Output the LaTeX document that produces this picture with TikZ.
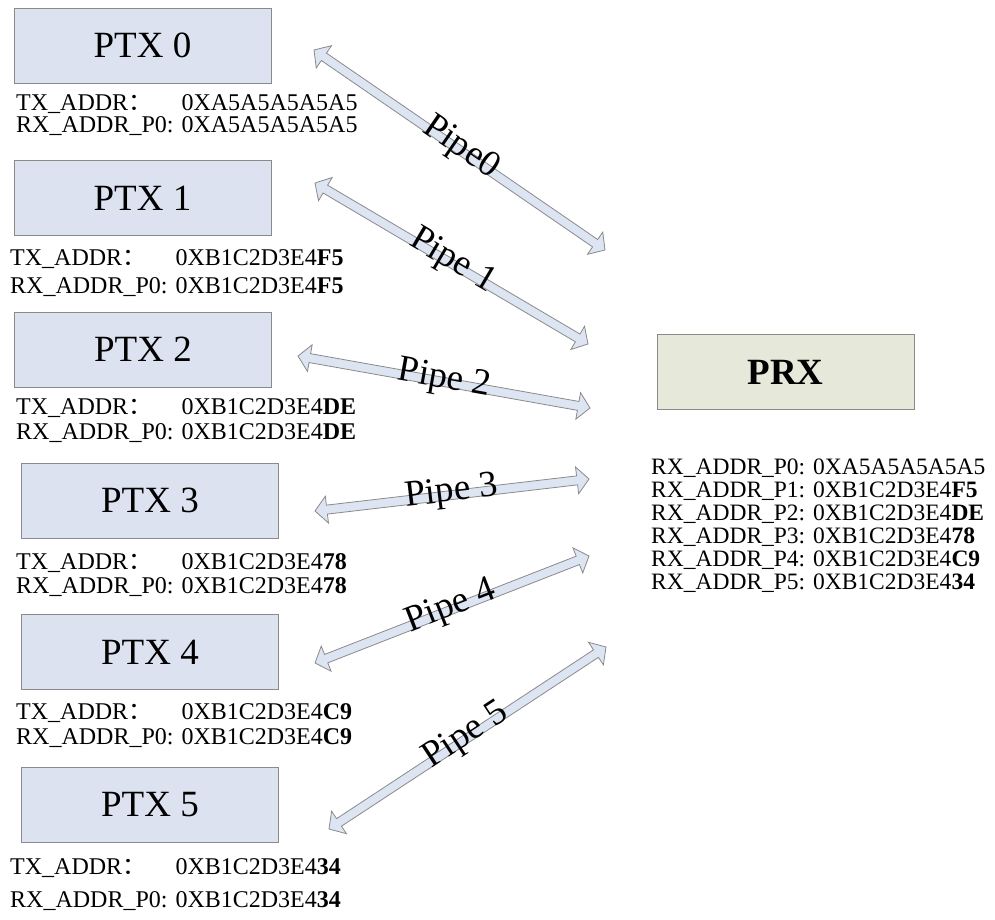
\documentclass[tikz,border=0pt]{standalone}
\usepackage{fontspec}
\setmainfont{Liberation Serif}
\newfontfamily\cjk{Noto Sans CJK SC}
\usetikzlibrary{calc}
\definecolor{ptxfill}{HTML}{DCE2F0}
\definecolor{prxfill}{HTML}{E6E9DA}
\definecolor{edgegray}{HTML}{8A8A8A}
\definecolor{arrfill}{HTML}{DDE4F2}
\tikzset{
  ptx/.style={draw=edgegray, fill=ptxfill, line width=0.9pt, minimum width=257pt,
    minimum height=75pt, inner sep=0pt, font=\fontsize{37}{40}\selectfont},
  prx/.style={ptx, fill=prxfill, font=\fontsize{37}{40}\selectfont\bfseries},
  lbl/.style={inner sep=0pt, font=\fontsize{24}{26}\selectfont},
  rlbl/.style={inner sep=0pt, font=\fontsize{23.5}{26}\selectfont},
  pipelbl/.style={inner sep=0pt, font=\fontsize{37}{40}\selectfont},
  pipearrow/.style={draw=edgegray, fill=arrfill, line width=0.8pt, line join=miter},
}
\newcommand\pipearr[3]{%
  \filldraw[pipearrow] (#1)
    -- ($(#1)!12pt!(#2)!13.5pt!90:(#2)$)
    -- ($(#1)!12pt!(#2)!4.5pt!90:(#2)$)
    -- ($(#2)!12pt!(#1)!4.5pt!-90:(#1)$)
    -- ($(#2)!12pt!(#1)!13.5pt!-90:(#1)$)
    -- (#2)
    -- ($(#2)!12pt!(#1)!13.5pt!90:(#1)$)
    -- ($(#2)!12pt!(#1)!4.5pt!90:(#1)$)
    -- ($(#1)!12pt!(#2)!4.5pt!-90:(#2)$)
    -- ($(#1)!12pt!(#2)!13.5pt!-90:(#2)$)
    -- cycle;
  \path let \p1=($(#2)-(#1)$), \n1={atan2(\y1,\x1)} in
    node[pipelbl, anchor=base, rotate=\n1] at ($(#1)!0.5!(#2)!6pt!-90:(#2)$) {#3};
}
\newcommand\addrrow[5]{%
  \node[lbl, anchor=base west] (#1t) at (#2,#3) {TX\_ADDR{\cjk ：}};
  \node[lbl, anchor=base west] (#1r) at (#2,#4) {RX\_ADDR\_P0: #5};
  \node[lbl, anchor=base east] (#1v) at (#1r.base east |- #1t.base) {#5};
}
\begin{document}
\begin{tikzpicture}[x=1pt,y=-1pt]
\useasboundingbox (0,0) rectangle (995,920);
% boxes
\node[ptx] (ptx0) at (142.5,45.5) {PTX 0};
\node[ptx] (ptx1) at (142.5,198) {PTX 1};
\node[ptx] (ptx2) at (143,349.5) {PTX 2};
\node[ptx] (ptx3) at (150,500.5) {PTX 3};
\node[ptx] (ptx4) at (150,652) {PTX 4};
\node[ptx] (ptx5) at (150,804.5) {PTX 5};
\node[prx] (prx) at (785.5,372) {PRX};
% address labels
\addrrow{a0}{16}{111}{133}{0XA5A5A5A5A5}
\addrrow{a1}{10}{265}{293}{0XB1C2D3E4\textbf{F5}}
\addrrow{a2}{16}{414}{439}{0XB1C2D3E4\textbf{DE}}
\addrrow{a3}{16}{569}{593}{0XB1C2D3E4\textbf{78}}
\addrrow{a4}{16}{719}{744}{0XB1C2D3E4\textbf{C9}}
\addrrow{a5}{10}{874}{907}{0XB1C2D3E4\textbf{34}}
% PRX list
\node[rlbl, anchor=base west] (r0) at (651,474) {RX\_ADDR\_P0: 0XA5A5A5A5A5};
\node[rlbl, anchor=base west] (r1) at (651,497) {RX\_ADDR\_P1: 0XB1C2D3E4\textbf{F5}};
\node[rlbl, anchor=base west] (r2) at (651,520) {RX\_ADDR\_P2: 0XB1C2D3E4\textbf{DE}};
\node[rlbl, anchor=base west] (r3) at (651,543) {RX\_ADDR\_P3: 0XB1C2D3E4\textbf{78}};
\node[rlbl, anchor=base west] (r4) at (651,566) {RX\_ADDR\_P4: 0XB1C2D3E4\textbf{C9}};
\node[rlbl, anchor=base west] (r5) at (651,589) {RX\_ADDR\_P5: 0XB1C2D3E4\textbf{34}};
% pipe arrows
\coordinate (p0s) at (314,50);  \coordinate (p0e) at (605,250);
\coordinate (p1s) at (315,183); \coordinate (p1e) at (588,344);
\coordinate (p2s) at (298,356); \coordinate (p2e) at (590,408);
\coordinate (p3s) at (315,511); \coordinate (p3e) at (589,479);
\coordinate (p4s) at (315,663); \coordinate (p4e) at (589,556);
\coordinate (p5s) at (329,829); \coordinate (p5e) at (606,647);
\pipearr{p0s}{p0e}{Pipe0}
\pipearr{p1s}{p1e}{Pipe 1}
\pipearr{p2s}{p2e}{Pipe 2}
\pipearr{p3s}{p3e}{Pipe 3}
\pipearr{p4s}{p4e}{Pipe 4}
\pipearr{p5s}{p5e}{Pipe 5}
\end{tikzpicture}
\end{document}
